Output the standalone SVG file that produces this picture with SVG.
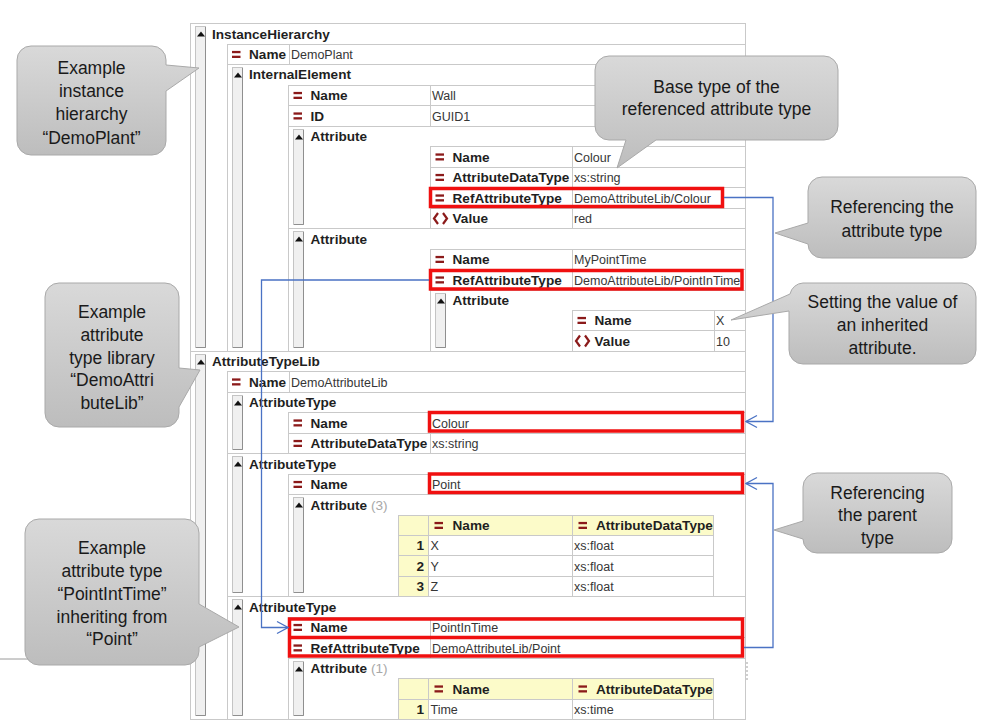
<svg xmlns="http://www.w3.org/2000/svg" xmlns:xlink="http://www.w3.org/1999/xlink" width="998" height="727" viewBox="0 0 998 727">
<defs>
<style>
.c{fill:#fff;stroke:#c9c9c9;stroke-width:1}
.s{stroke:#c9c9c9;stroke-width:1}
.y{fill:#fcfbc9;stroke:#c9c9c9;stroke-width:1}
.bar{fill:#f0f0f0;stroke:#c4c4c4;stroke-width:1}
.bsh{fill:none;stroke:#8f8f8f;stroke-width:1}
.b{font-family:"Liberation Sans",Arial,sans-serif;font-weight:bold;font-size:13.6px;fill:#1f1f1f}
.v{font-family:"Liberation Sans",Arial,sans-serif;font-size:12.5px;fill:#363636}
.n{font-family:"Liberation Sans",Arial,sans-serif;font-weight:bold;font-size:13.6px;fill:#1f1f1f;text-anchor:end}
.cnt{fill:#a8a8a8;font-weight:normal}
.hl{fill:none;stroke:#f01010;stroke-width:3.5}
.con{fill:none;stroke:#4a72c4;stroke-width:1.3}
.co{fill:url(#cg);stroke:#a9a9a9;stroke-width:1}
.t{font-family:"Liberation Sans",Arial,sans-serif;font-size:17.5px;fill:#1a1a1a;text-anchor:middle}
</style>
<linearGradient id="cg" x1="0" y1="0" x2="0" y2="1">
<stop offset="0" stop-color="#d9d9d9"/>
<stop offset="1" stop-color="#bdbdbd"/>
</linearGradient>
<marker id="ah" viewBox="-13 -8 14 16" refX="0" refY="0" markerWidth="14" markerHeight="16" markerUnits="userSpaceOnUse" orient="auto">
<path d="M-11,-6 L0,0 L-11,6" fill="none" stroke="#4a72c4" stroke-width="1.3"/>
</marker>
<g id="eq" fill="#8b1a1a"><rect x="0" y="-3.6" width="8.5" height="2.3"/><rect x="0" y="1.2" width="8.5" height="2.3"/></g>
<path id="val" d="M5,-5.5 L1,0 L5,5.5 M10,-5.5 L14,0 L10,5.5" fill="none" stroke="#8b1a1a" stroke-width="2.2"/>
<polygon id="tri" points="-4,5 0,0 4,5" fill="#111"/>
</defs>

<rect x="0" y="0" width="998" height="727" fill="#fff"/>
<line x1="0" y1="659" x2="190" y2="659" stroke="#9a9a9a" stroke-width="1"/>
<line x1="747" y1="662" x2="747" y2="681" stroke="#a0a0a0" stroke-width="1" stroke-dasharray="2,2"/>

<g id="tree">
<g id="instance-hierarchy">
<rect class="c" x="190.5" y="23.5" width="555" height="328"/>
<rect class="bar" x="195.5" y="26.5" width="10" height="321"/><path class="bsh" d="M205.5,27 V347.5 H196"/>
<use href="#tri" x="201" y="31.5"/>
<text class="b" x="212" y="38.5">InstanceHierarchy</text>
<rect class="c" x="227.5" y="44.5" width="518" height="20"/><line class="s" x1="289.5" y1="44.5" x2="289.5" y2="64.5"/>
<use href="#eq" x="232" y="54.5"/><text class="b" x="249" y="59">Name</text><text class="v" x="291" y="59">DemoPlant</text>

<g id="internal-element">
<rect class="c" x="227.5" y="64.5" width="518" height="287"/>
<rect class="bar" x="232.5" y="67.5" width="10" height="280"/><path class="bsh" d="M242.5,68 V347.5 H233"/>
<use href="#tri" x="238" y="72.5"/>
<text class="b" x="249" y="79">InternalElement</text>
<rect class="c" x="288.5" y="85.5" width="457" height="20"/><line class="s" x1="430.5" y1="85.5" x2="430.5" y2="105.5"/>
<use href="#eq" x="293.5" y="95.5"/><text class="b" x="310.5" y="100">Name</text><text class="v" x="432" y="100">Wall</text>
<rect class="c" x="288.5" y="105.5" width="457" height="21"/><line class="s" x1="430.5" y1="105.5" x2="430.5" y2="126.5"/>
<use href="#eq" x="293.5" y="116"/><text class="b" x="310.5" y="120.5">ID</text><text class="v" x="432" y="120.5">GUID1</text>

<g id="attribute-colour">
<rect class="c" x="288.5" y="126.5" width="457" height="102"/>
<rect class="bar" x="293.5" y="129.5" width="10" height="95"/><path class="bsh" d="M303.5,130 V224.5 H294"/>
<use href="#tri" x="299" y="134.5"/>
<text class="b" x="310.5" y="141">Attribute</text>
<rect class="c" x="430.5" y="146.5" width="315" height="21"/><line class="s" x1="572.5" y1="146.5" x2="572.5" y2="167.5"/>
<use href="#eq" x="435.5" y="157"/><text class="b" x="452.5" y="161.5">Name</text><text class="v" x="574" y="161.5">Colour</text>
<rect class="c" x="430.5" y="167.5" width="315" height="20"/><line class="s" x1="572.5" y1="167.5" x2="572.5" y2="187.5"/>
<use href="#eq" x="435.5" y="177.5"/><text class="b" x="452.5" y="182">AttributeDataType</text><text class="v" x="574" y="182">xs:string</text>
<rect class="c" x="430.5" y="187.5" width="315" height="21"/><line class="s" x1="572.5" y1="187.5" x2="572.5" y2="208.5"/>
<use href="#eq" x="435.5" y="198"/><text class="b" x="452.5" y="202.5">RefAttributeType</text><text class="v" x="574" y="202.5">DemoAttributeLib/Colour</text>
<rect class="c" x="430.5" y="208.5" width="315" height="20"/><line class="s" x1="572.5" y1="208.5" x2="572.5" y2="228.5"/>
<use href="#val" x="433" y="218.5"/><text class="b" x="452.5" y="223">Value</text><text class="v" x="574" y="223">red</text>
</g>

<g id="attribute-mypointtime">
<rect class="c" x="288.5" y="228.5" width="457" height="123"/>
<rect class="bar" x="293.5" y="231.5" width="10" height="116"/><path class="bsh" d="M303.5,232 V347.5 H294"/>
<use href="#tri" x="299" y="236.5"/>
<text class="b" x="310.5" y="243.5">Attribute</text>
<rect class="c" x="430.5" y="249.5" width="315" height="20"/><line class="s" x1="572.5" y1="249.5" x2="572.5" y2="269.5"/>
<use href="#eq" x="435.5" y="259.5"/><text class="b" x="452.5" y="264">Name</text><text class="v" x="574" y="264">MyPointTime</text>
<rect class="c" x="430.5" y="269.5" width="315" height="21"/><line class="s" x1="572.5" y1="269.5" x2="572.5" y2="290.5"/>
<use href="#eq" x="435.5" y="280"/><text class="b" x="452.5" y="284.5">RefAttributeType</text><text class="v" x="574" y="284.5">DemoAttributeLib/PointInTime</text>
<g id="attribute-x">
<rect class="c" x="430.5" y="290.5" width="315" height="61"/>
<rect class="bar" x="435.5" y="293.5" width="10" height="54"/><path class="bsh" d="M445.5,294 V347.5 H436"/>
<use href="#tri" x="441" y="298.5"/>
<text class="b" x="452.5" y="305">Attribute</text>
<rect class="c" x="572.5" y="310.5" width="173" height="20"/><line class="s" x1="714.5" y1="310.5" x2="714.5" y2="330.5"/>
<use href="#eq" x="577.5" y="320.5"/><text class="b" x="594.5" y="325">Name</text><text class="v" x="716" y="325">X</text>
<rect class="c" x="572.5" y="330.5" width="173" height="21"/><line class="s" x1="714.5" y1="330.5" x2="714.5" y2="351.5"/>
<use href="#val" x="575" y="341"/><text class="b" x="594.5" y="345.5">Value</text><text class="v" x="716" y="345.5">10</text>
</g>
</g>
</g>
</g>

<g id="attribute-type-lib">
<rect class="c" x="190.5" y="351.5" width="555" height="368"/>
<rect class="bar" x="195.5" y="354.5" width="10" height="361"/><path class="bsh" d="M205.5,355 V715.5 H196"/>
<use href="#tri" x="201" y="359.5"/>
<text class="b" x="212" y="366">AttributeTypeLib</text>
<rect class="c" x="227.5" y="371.5" width="518" height="21"/><line class="s" x1="289.5" y1="371.5" x2="289.5" y2="392.5"/>
<use href="#eq" x="232" y="382"/><text class="b" x="249" y="386.5">Name</text><text class="v" x="291" y="386.5">DemoAttributeLib</text>

<g id="attribute-type-colour">
<rect class="c" x="227.5" y="392.5" width="518" height="61"/>
<rect class="bar" x="232.5" y="395.5" width="10" height="54"/><path class="bsh" d="M242.5,396 V449.5 H233"/>
<use href="#tri" x="238" y="400.5"/>
<text class="b" x="249" y="407">AttributeType</text>
<rect class="c" x="288.5" y="412.5" width="457" height="21"/><line class="s" x1="430.5" y1="412.5" x2="430.5" y2="433.5"/>
<use href="#eq" x="293.5" y="423"/><text class="b" x="310.5" y="427.5">Name</text><text class="v" x="432" y="427.5">Colour</text>
<rect class="c" x="288.5" y="433.5" width="457" height="20"/><line class="s" x1="430.5" y1="433.5" x2="430.5" y2="453.5"/>
<use href="#eq" x="293.5" y="443.5"/><text class="b" x="310.5" y="448">AttributeDataType</text><text class="v" x="432" y="448">xs:string</text>
</g>

<g id="attribute-type-point">
<rect class="c" x="227.5" y="453.5" width="518" height="143"/>
<rect class="bar" x="232.5" y="456.5" width="10" height="136"/><path class="bsh" d="M242.5,457 V592.5 H233"/>
<use href="#tri" x="238" y="461.5"/>
<text class="b" x="249" y="468.5">AttributeType</text>
<rect class="c" x="288.5" y="474.5" width="457" height="20"/><line class="s" x1="430.5" y1="474.5" x2="430.5" y2="494.5"/>
<use href="#eq" x="293.5" y="484.5"/><text class="b" x="310.5" y="489">Name</text><text class="v" x="432" y="489">Point</text>
<g id="point-attributes">
<rect class="c" x="288.5" y="494.5" width="457" height="102"/>
<rect class="bar" x="293.5" y="497.5" width="10" height="95"/><path class="bsh" d="M303.5,498 V592.5 H294"/>
<use href="#tri" x="299" y="502.5"/>
<text class="b" x="310.5" y="509.5">Attribute <tspan class="cnt">(3)</tspan></text>
<rect class="y" x="398.5" y="515.5" width="30" height="20"/><rect class="y" x="428.5" y="515.5" width="144" height="20"/><rect class="y" x="572.5" y="515.5" width="141" height="20"/>
<use href="#eq" x="434.5" y="525.5"/><text class="b" x="452.5" y="530">Name</text>
<use href="#eq" x="578.5" y="525.5"/><text class="b" x="596" y="530">AttributeDataType</text>
<rect class="y" x="398.5" y="535.5" width="30" height="20"/><rect class="c" x="428.5" y="535.5" width="144" height="20"/><rect class="c" x="572.5" y="535.5" width="141" height="20"/>
<text class="n" x="424" y="550">1</text><text class="v" x="430.5" y="550">X</text><text class="v" x="574" y="550">xs:float</text>
<rect class="y" x="398.5" y="555.5" width="30" height="21"/><rect class="c" x="428.5" y="555.5" width="144" height="21"/><rect class="c" x="572.5" y="555.5" width="141" height="21"/>
<text class="n" x="424" y="570.5">2</text><text class="v" x="430.5" y="570.5">Y</text><text class="v" x="574" y="570.5">xs:float</text>
<rect class="y" x="398.5" y="576.5" width="30" height="20"/><rect class="c" x="428.5" y="576.5" width="144" height="20"/><rect class="c" x="572.5" y="576.5" width="141" height="20"/>
<text class="n" x="424" y="591">3</text><text class="v" x="430.5" y="591">Z</text><text class="v" x="574" y="591">xs:float</text>
</g>
</g>

<g id="attribute-type-pointintime">
<rect class="c" x="227.5" y="596.5" width="518" height="123"/>
<rect class="bar" x="232.5" y="599.5" width="10" height="116"/><path class="bsh" d="M242.5,600 V715.5 H233"/>
<use href="#tri" x="238" y="604.5"/>
<text class="b" x="249" y="611.5">AttributeType</text>
<rect class="c" x="288.5" y="617.5" width="457" height="20"/><line class="s" x1="430.5" y1="617.5" x2="430.5" y2="637.5"/>
<use href="#eq" x="293.5" y="627.5"/><text class="b" x="310.5" y="632">Name</text><text class="v" x="432" y="632">PointInTime</text>
<rect class="c" x="288.5" y="637.5" width="457" height="21"/><line class="s" x1="430.5" y1="637.5" x2="430.5" y2="658.5"/>
<use href="#eq" x="293.5" y="648"/><text class="b" x="310.5" y="652.5">RefAttributeType</text><text class="v" x="432" y="652.5">DemoAttributeLib/Point</text>
<g id="pointintime-attributes">
<rect class="c" x="288.5" y="658.5" width="457" height="61"/>
<rect class="bar" x="293.5" y="661.5" width="10" height="54"/><path class="bsh" d="M303.5,662 V715.5 H294"/>
<use href="#tri" x="299" y="666.5"/>
<text class="b" x="310.5" y="673">Attribute <tspan class="cnt">(1)</tspan></text>
<rect class="y" x="398.5" y="678.5" width="30" height="21"/><rect class="y" x="428.5" y="678.5" width="144" height="21"/><rect class="y" x="572.5" y="678.5" width="141" height="21"/>
<use href="#eq" x="434.5" y="689"/><text class="b" x="452.5" y="693.5">Name</text>
<use href="#eq" x="578.5" y="689"/><text class="b" x="596" y="693.5">AttributeDataType</text>
<rect class="y" x="398.5" y="699.5" width="30" height="20"/><rect class="c" x="428.5" y="699.5" width="144" height="20"/><rect class="c" x="572.5" y="699.5" width="141" height="20"/>
<text class="n" x="424" y="714">1</text><text class="v" x="430.5" y="714">Time</text><text class="v" x="574" y="714">xs:time</text>
</g>
</g>
</g>
</g>

<g id="highlights">
<rect class="hl" x="430.5" y="188.5" width="292" height="18"/>
<rect class="hl" x="430.5" y="270.5" width="311.5" height="18.5"/>
<rect class="hl" x="429.5" y="412.5" width="313" height="18.5"/>
<rect class="hl" x="429.5" y="474" width="313" height="18.5"/>
<rect class="hl" x="289.5" y="619" width="453" height="37"/>
<line class="hl" x1="289.5" y1="637.5" x2="742.5" y2="637.5"/>
</g>

<g id="connectors">
<path class="con" d="M724,197.5 H773 V421.5 H746" marker-end="url(#ah)"/>
<path class="con" d="M744,647.5 H773 V483.5 H746" marker-end="url(#ah)"/>
<path class="con" d="M429,280 H261.5 V627.5 H288" marker-end="url(#ah)"/>
</g>

<g id="callout-demoplant">
<path class="co" d="M31,46 H152 A14,14 0 0 1 166,60 V65 L199,68 L166,91 V141 A14,14 0 0 1 152,155 H31 A14,14 0 0 1 17,141 V60 A14,14 0 0 1 31,46 Z"/>
<text class="t" x="91.5" y="74">Example</text>
<text class="t" x="91.5" y="97">instance</text>
<text class="t" x="91.5" y="120">hierarchy</text>
<text class="t" x="91.5" y="143.5">“DemoPlant”</text>
</g>

<g id="callout-lib">
<path class="co" d="M59,283 H165 A14,14 0 0 1 179,297 V368 L200,370 L179,407 V413 A14,14 0 0 1 165,427 H59 A14,14 0 0 1 45,413 V297 A14,14 0 0 1 59,283 Z"/>
<text class="t" x="112" y="317.5">Example</text>
<text class="t" x="112" y="340.5">attribute</text>
<text class="t" x="112" y="363.5">type library</text>
<text class="t" x="112" y="386">“DemoAttri</text>
<text class="t" x="112" y="409">buteLib”</text>
</g>

<g id="callout-pointintime">
<path class="co" d="M39,519 H185 A14,14 0 0 1 199,533 V604 L239,627 L199,647 V651 A14,14 0 0 1 185,665 H39 A14,14 0 0 1 25,651 V533 A14,14 0 0 1 39,519 Z"/>
<text class="t" x="112" y="554">Example</text>
<text class="t" x="112" y="577">attribute type</text>
<text class="t" x="112" y="599.5">“PointIntTime”</text>
<text class="t" x="112" y="622.5">inheriting from</text>
<text class="t" x="112" y="645">“Point”</text>
</g>

<g id="callout-basetype">
<path class="co" d="M609,56 H824 A14,14 0 0 1 838,70 V126 A14,14 0 0 1 824,140 H656 L617,168 L626,140 H609 A14,14 0 0 1 595,126 V70 A14,14 0 0 1 609,56 Z"/>
<text class="t" x="716.5" y="92.5">Base type of the</text>
<text class="t" x="716.5" y="115">referenced attribute type</text>
</g>

<g id="callout-referencing-type">
<path class="co" d="M822,177 H962 A14,14 0 0 1 976,191 V244 A14,14 0 0 1 962,258 H822 A14,14 0 0 1 808,244 L775,233 L808,223 V191 A14,14 0 0 1 822,177 Z"/>
<text class="t" x="892" y="213">Referencing the</text>
<text class="t" x="892" y="236.5">attribute type</text>
</g>

<g id="callout-inherited-value">
<path class="co" d="M803,283 H962 A14,14 0 0 1 976,297 V350 A14,14 0 0 1 962,364 H803 A14,14 0 0 1 789,350 V311 L731,320 L790,294 A14,14 0 0 1 803,283 Z"/>
<text class="t" x="882.5" y="307.5">Setting the value of</text>
<text class="t" x="882.5" y="331">an inherited</text>
<text class="t" x="882.5" y="354">attribute.</text>
</g>

<g id="callout-parent-type">
<path class="co" d="M817,473 H938 A14,14 0 0 1 952,487 V539 A14,14 0 0 1 938,553 H817 A14,14 0 0 1 803,539 L774,530 L803,521 V487 A14,14 0 0 1 817,473 Z"/>
<text class="t" x="877.5" y="498.5">Referencing</text>
<text class="t" x="877.5" y="521">the parent</text>
<text class="t" x="877.5" y="544">type</text>
</g>
</svg>
